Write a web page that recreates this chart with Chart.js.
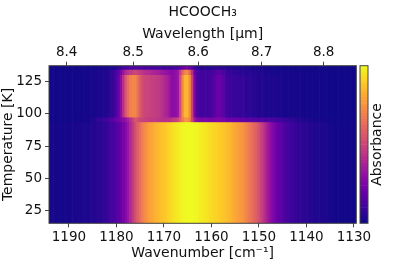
<!DOCTYPE html>
<html><head><meta charset="utf-8">
<style>html,body{margin:0;padding:0;background:#fff}
#wrap{position:relative;width:395px;height:263px;overflow:hidden;filter:blur(0.6px)}
canvas{position:absolute;top:0}</style>
<script src="https://cdn.jsdelivr.net/npm/chart.js@4"></script></head>
<body><div id="wrap"><canvas id="main" width="395" height="263" style="left:0"></canvas><canvas id="bar" width="37" height="263" style="left:358px"></canvas></div>
<script>
const chartTitle="HCOOCH\u2083", topLabel="Wavelength [\u03BCm]", bottomLabel="Wavenumber [cm\u207B\u00B9]", leftLabel="Temperature [K]", barLabel="Absorbance";
const wavenumberTicks=[1190,1180,1170,1160,1150,1140,1130];
const wavelengthTicks=[8.4,8.5,8.6,8.7,8.8];
const temperatureTicks=[25,50,75,100,125];
const wavenumbers=[1195,1194.5,1194,1193.5,1193,1192.5,1192,1191.5,1191,1190.5,1190,1189.5,1189,1188.5,1188,1187.5,1187,1186.5,1186,1185.5,
 1185,1184.5,1184,1183.5,1183,1182.5,1182,1181.5,1181,1180.5,1180,1179.5,1179,1178.5,1178,1177.5,1177,1176.5,1176,1175.5,
 1175,1174.5,1174,1173.5,1173,1172.5,1172,1171.5,1171,1170.5,1170,1169.5,1169,1168.5,1168,1167.5,1167,1166.5,1166,1165.5,
 1165,1164.5,1164,1163.5,1163,1162.5,1162,1161.5,1161,1160.5,1160,1159.5,1159,1158.5,1158,1157.5,1157,1156.5,1156,1155.5,
 1155,1154.5,1154,1153.5,1153,1152.5,1152,1151.5,1151,1150.5,1150,1149.5,1149,1148.5,1148,1147.5,1147,1146.5,1146,1145.5,
 1145,1144.5,1144,1143.5,1143,1142.5,1142,1141.5,1141,1140.5,1140,1139.5,1139,1138.5,1138,1137.5,1137,1136.5,1136,1135.5,
 1135,1134.5,1134,1133.5,1133,1132.5,1132,1131.5,1131,1130.5,1130,1129.5,1129];
const rowEdges=[15,93.2,97,130,134,137.4];
const lowT=[.02,.02,.02,.02,.02,.02,.02,.02,.02,.02,.02,.02,.025,.025,.025,.025,.03,.03,.03,.035,
 .04,.045,.05,.055,.06,.07,.08,.09,.1,.12,.14,.165,.19,.23,.27,.33,.39,.455,.52,.58,
 .63,.68,.72,.75,.78,.8,.82,.835,.85,.865,.88,.89,.91,.925,.94,.955,.97,.98,.99,.995,
 1,1,1,.995,.99,.98,.97,.96,.95,.94,.93,.92,.91,.9,.89,.88,.87,.855,.84,.82,
 .8,.785,.77,.75,.73,.7,.67,.64,.61,.58,.54,.49,.44,.39,.34,.3,.26,.225,.195,.17,
 .15,.13,.115,.1,.09,.08,.075,.07,.065,.06,.055,.05,.045,.04,.037,.035,.032,.03,.028,.025,
 .02,.018,.015,.013,.012,.011,.01,.01,.01,.01,.01,.01,.01];
const bandT=[.01,.01,.01,.01,.01,.01,.01,.01,.01,.01,.01,.01,.01,.01,.015,.015,.015,.02,.02,.02,
 .03,.045,.06,.07,.08,.09,.1,.12,.14,.17,.2,.22,.25,.28,.32,.37,.42,.48,.55,.53,
 .5,.49,.48,.47,.46,.455,.45,.445,.44,.43,.42,.42,.42,.43,.45,.47,.5,.58,.68,.74,
 .75,.68,.5,.35,.28,.26,.25,.25,.25,.245,.24,.245,.25,.25,.25,.235,.22,.21,.2,.2,
 .2,.19,.18,.175,.17,.165,.16,.155,.15,.145,.14,.135,.13,.13,.13,.125,.12,.11,.1,.095,
 .09,.08,.07,.065,.06,.055,.05,.045,.04,.035,.03,.028,.025,.022,.02,.02,.02,.018,.015,.012,
 .01,.01,.01,.01,.01,.01,.01,.01,.01,.01,.01,.01,.01];
const highT=[.01,.01,.01,.01,.01,.01,.01,.01,.01,.01,.01,.01,.01,.01,.015,.015,.015,.015,.02,.02,
 .02,.022,.025,.027,.03,.035,.04,.05,.07,.09,.13,.2,.3,.42,.55,.63,.69,.71,.71,.65,
 .57,.52,.5,.49,.48,.475,.47,.46,.45,.43,.41,.38,.35,.31,.29,.3,.33,.52,.72,.84,
 .84,.72,.48,.25,.14,.11,.1,.1,.1,.105,.11,.14,.18,.2,.2,.16,.12,.1,.09,.085,
 .08,.08,.08,.075,.07,.065,.06,.055,.05,.045,.04,.04,.04,.035,.03,.03,.03,.03,.03,.025,
 .02,.02,.02,.02,.02,.02,.02,.02,.015,.015,.015,.015,.01,.01,.01,.01,.01,.01,.01,.01,
 .005,.005,.005,.005,.005,.005,.005,.005,.005,.005,.005,.005,.005];
const upperT=[.01,.01,.01,.01,.01,.01,.01,.01,.01,.01,.01,.01,.01,.01,.015,.015,.015,.015,.02,.02,
 .02,.022,.025,.027,.03,.035,.04,.05,.07,.09,.12,.17,.24,.32,.4,.43,.45,.48,.5,.48,
 .46,.44,.42,.41,.4,.39,.38,.37,.36,.345,.33,.315,.3,.285,.28,.3,.33,.47,.62,.7,
 .72,.6,.42,.22,.13,.11,.1,.1,.1,.1,.1,.12,.14,.16,.16,.13,.1,.09,.08,.075,
 .07,.065,.06,.055,.05,.05,.05,.045,.04,.04,.04,.035,.03,.03,.03,.025,.02,.02,.02,.02,
 .02,.02,.02,.02,.015,.015,.015,.015,.01,.01,.01,.01,.01,.01,.01,.01,.01,.01,.01,.01,
 .005,.005,.005,.005,.005,.005,.005,.005,.005,.005,.005,.005,.005];
const topT=[.01,.01,.01,.01,.01,.01,.01,.01,.01,.01,.01,.01,.01,.01,.01,.01,.01,.01,.01,.01,
 .015,.015,.015,.018,.02,.02,.02,.025,.03,.035,.04,.06,.08,.1,.12,.125,.13,.13,.13,.13,
 .13,.125,.12,.12,.12,.115,.11,.11,.11,.105,.1,.1,.1,.1,.1,.115,.13,.16,.2,.21,
 .22,.19,.14,.09,.06,.055,.05,.05,.05,.05,.05,.055,.06,.06,.06,.055,.05,.045,.04,.035,
 .03,.03,.03,.03,.03,.03,.025,.02,.02,.02,.02,.02,.02,.018,.015,.015,.015,.012,.01,.01,
 .01,.01,.01,.01,.01,.01,.01,.01,.01,.01,.01,.01,.01,.01,.01,.01,.01,.01,.01,.01,
 .005,.005,.005,.005,.005,.005,.005,.005,.005,.005,.005,.005,.005];
const rowProfiles=[lowT,bandT,highT,upperT,topT];
const colorbarLevels=[0,.02,.04,.06,.08,.1,.12,.14,.16,.18,.2,.22,.24,.26,.28,.3,.32,.34,.36,.38,.4,.42,.44,.46,.48,.5,.52,.54,.56,.58,.6,.62,.64,.66,.68,.7,.72,.74,.76,.78,.8,.82,.84,.86,.88,.9,.92,.94,.96,.98];
const plasma=[[13,8,135],[65,4,157],[106,0,168],[143,13,164],[177,42,144],[204,71,120],[225,100,98],[242,132,75],[252,166,54],[252,206,37],[240,249,33]];
function cmap(v){const p=Math.min(.9999,Math.max(0,v))*10,i=Math.floor(p),f=p-i,a=plasma[i],b=plasma[i+1];
 return `rgb(${a.map((c,k)=>Math.round(c+(b[k]-c)*f)).join(',')})`;}
const FONT="'DejaVu Sans'", INK='#111', FRAME='#444';
Chart.defaults.font.family=FONT; Chart.defaults.color=INK; Chart.defaults.animation=false;
const frame={id:'frame',afterDraw(c){const a=c.chartArea,x=c.ctx;x.save();x.strokeStyle=FRAME;x.lineWidth=1;x.strokeRect(a.left,a.top,a.right-a.left,a.bottom-a.top);x.restore();}};
const datasets=rowProfiles.map((p,r)=>({
 data:wavenumbers.map((w)=>({x:w,y:[rowEdges[r],rowEdges[r+1]]})),
 backgroundColor:p.map(cmap),borderWidth:0,grouped:false,barPercentage:1,categoryPercentage:1}));
const wmin=1129.5,wmax=1194.2;
const noPad=s=>{s.paddingLeft=0;s.paddingRight=0;s.paddingTop=0;s.paddingBottom=0;};
new Chart(document.getElementById('main'),{type:'bar',data:{datasets},plugins:[frame],options:{
 responsive:false,animation:false,
 layout:{padding:{left:0,right:38.7,top:0,bottom:0}},
 plugins:{legend:{display:false},tooltip:{enabled:false},
  title:{display:true,fullSize:false,text:chartTitle,font:{size:14,weight:'normal'},color:INK,padding:{top:3.5,bottom:0}}},
 scales:{
  x:{type:'linear',position:'bottom',reverse:true,min:wmin,max:wmax,offset:false,
   afterBuildTicks(s){s.ticks=wavenumberTicks.map(v=>({value:v}));},
   afterFit(s){s.height=39.7;noPad(s);},
   grid:{offset:false,drawOnChartArea:false,tickLength:4,tickColor:FRAME},border:{display:false},
   ticks:{autoSkip:false,maxRotation:0,padding:2,font:{size:13.5},color:INK,callback:v=>String(v)},
   title:{display:true,text:bottomLabel,font:{size:14},color:INK,padding:{top:0,bottom:1.6}}},
  xTop:{type:'linear',position:'top',reverse:true,min:wmin,max:wmax,offset:false,
   afterBuildTicks(s){s.ticks=wavelengthTicks.map(l=>({value:1e4/l}));},
   afterFit(s){s.height=45.4;noPad(s);},
   grid:{offset:false,drawOnChartArea:false,tickLength:4,tickColor:FRAME},border:{display:false},
   ticks:{autoSkip:false,maxRotation:0,padding:1,font:{size:13.5},color:INK,callback:v=>(1e4/v).toFixed(1)},
   title:{display:true,text:topLabel,font:{size:14},color:INK,padding:{top:5.5,bottom:0}}},
  y:{type:'linear',position:'left',min:15.2,max:137.4,
   afterBuildTicks(s){s.ticks=temperatureTicks.map(v=>({value:v}));},
   afterFit(s){s.width=49;noPad(s);},
   grid:{drawOnChartArea:false,tickLength:4,tickColor:FRAME},border:{display:false},
   ticks:{autoSkip:false,padding:3,font:{size:13.5},color:INK,callback:v=>String(v)},
   title:{display:true,text:leftLabel,font:{size:14},color:INK,padding:{top:0,bottom:0}}}
 }}});
const axisTitle={id:'axisTitle',afterDraw(c){const x=c.ctx;x.save();x.translate(19,144.5);x.rotate(-Math.PI/2);x.font="14px "+FONT;x.fillStyle=INK;x.textAlign='center';x.textBaseline='middle';x.fillText(barLabel,0,0);x.restore();}};
new Chart(document.getElementById('bar'),{type:'bar',data:{labels:['c'],datasets:colorbarLevels.map(v=>({data:[[v,v+.02]],backgroundColor:cmap(v+.01),borderWidth:0,grouped:false,barPercentage:1,categoryPercentage:1}))},
 plugins:[frame,axisTitle],options:{responsive:false,animation:false,
 layout:{padding:{left:2,right:27,top:65.7,bottom:39.7}},
 plugins:{legend:{display:false},tooltip:{enabled:false}},
 scales:{x:{display:false},y:{display:false,min:0,max:1}}}});
</script></body></html>
